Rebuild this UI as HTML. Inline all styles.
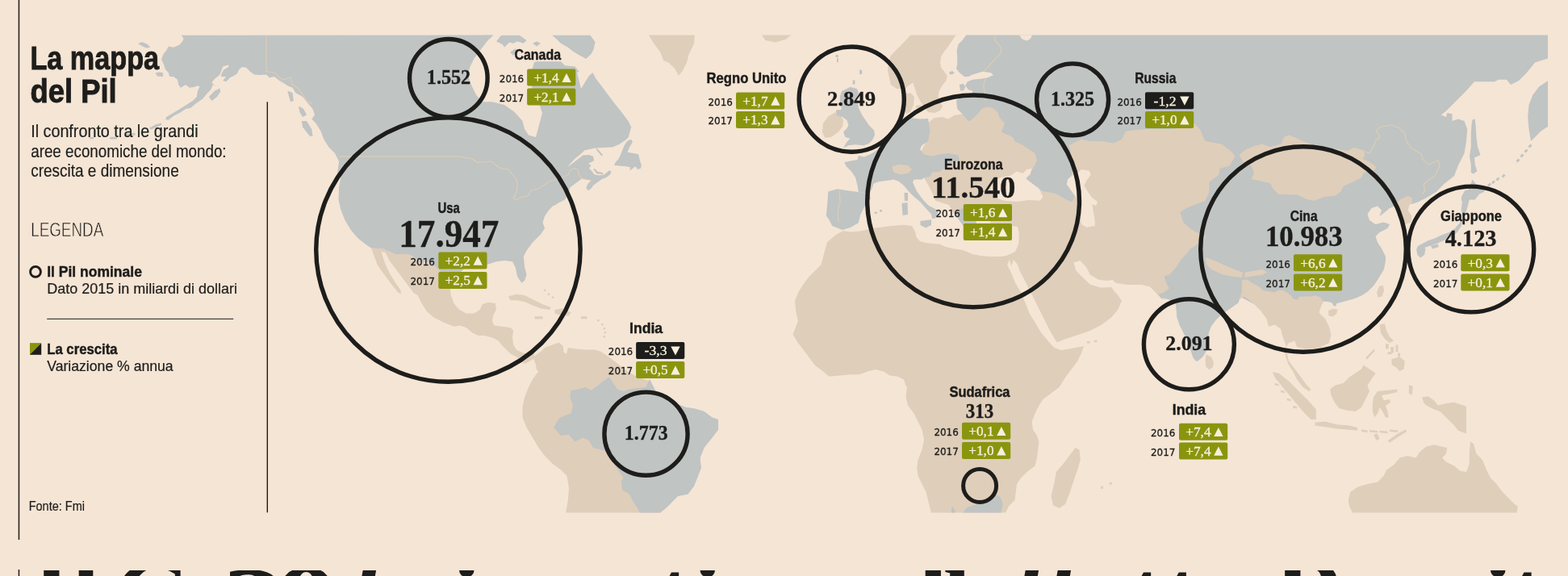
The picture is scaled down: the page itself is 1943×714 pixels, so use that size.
<!DOCTYPE html>
<html lang="it"><head><meta charset="utf-8"><title>La mappa del Pil</title>
<style>
html,body{margin:0;padding:0}
html{background:#f5e5d5}
body{width:1943px;height:714px;background:#f5e5d5;position:relative;font-family:"Liberation Sans",sans-serif;color:#1d1d1b}
.map{position:absolute;left:0;top:0}
text{fill:#1d1d1b;white-space:pre}
.sb{font-family:"Liberation Sans",sans-serif;font-weight:bold;stroke:#1d1d1b;stroke-width:0.45px}
.tt{stroke-width:0.9px}
.sr{font-family:"Liberation Sans",sans-serif;stroke:#1d1d1b;stroke-width:0.2px}
.sl{font-family:"Liberation Sans",sans-serif;stroke:#f5e5d5;stroke-width:0.5px}
.nb{font-family:"Liberation Serif",serif;font-weight:bold;stroke:#1d1d1b;stroke-width:0.35px}
.yr{font-family:"DejaVu Sans","Liberation Sans",sans-serif;stroke:#1d1d1b;stroke-width:0.3px}
.vv{font-family:"Liberation Serif",serif;fill:#f7efdc;stroke:#f7efdc;stroke-width:0.3px}
.hl{position:absolute;left:0;top:706.5px;width:1943px;height:8px;overflow:hidden}
.hl span{position:absolute;font-family:"Liberation Serif",serif;font-weight:bold;line-height:1;white-space:nowrap;color:#1d1d1b}
</style></head>
<body>
<svg class="map" width="1943" height="714" viewBox="0 0 1943 714">
<defs><clipPath id="mc"><rect x="100" y="43.5" width="1818" height="592"/></clipPath></defs>
<g clip-path="url(#mc)">
<path d="M803.5 43.0L861.0 43.0L859.8 55.0L853.5 67.5L851.0 77.5L846.0 87.5L841.0 93.8L836.0 85.0L828.5 77.5L822.2 75.0L818.5 65.0L811.0 55.0Z" fill="#dfceba"/>
<path d="M943.5 43.0L981.0 43.0L973.5 48.8L961.0 52.5L948.5 50.0Z" fill="#dfceba"/>
<path d="M460.0 307.5L475.0 308.5L490.0 315.0L505.0 315.0L512.5 318.0L520.0 325.5L530.0 324.2L540.0 330.5L550.0 340.5L560.0 353.0L557.5 356.0L558.8 366.0L562.5 376.0L568.8 383.5L577.5 388.5L587.5 388.5L595.0 383.5L597.5 377.2L605.0 374.8L613.8 376.0L615.0 383.5L611.2 391.0L610.0 398.5L612.5 403.5L622.5 404.8L632.5 406.0L636.2 409.8L635.0 418.5L636.2 427.2L640.0 433.5L647.5 437.2L655.0 438.5L662.5 438.5L661.2 444.8L655.0 448.5L650.0 451.0L645.0 447.2L640.0 442.2L632.5 438.5L627.5 433.5L622.5 428.5L617.5 422.2L610.0 418.5L600.0 416.0L592.5 416.0L585.0 412.2L577.5 406.0L570.0 403.5L562.5 404.8L550.0 399.8L537.5 393.5L528.8 386.0L522.5 376.0L517.5 366.0L512.5 363.0L505.0 353.0L497.5 343.0L490.0 333.0L482.5 323.0L477.5 313.0L472.5 311.8L472.5 311.8L475.0 320.5L478.8 330.5L483.8 340.5L490.0 350.5L496.2 359.2L497.5 364.2L493.8 363.0L487.5 355.5L480.0 345.5L472.5 335.5L467.5 328.0L463.8 318.0L460.0 307.5Z" fill="#dfceba"/>
<path d="M630.0 367.2L640.0 364.8L650.0 366.0L660.0 371.0L672.5 377.2L682.5 381.0L681.2 384.0L670.0 382.2L660.0 378.5L650.0 374.0L640.0 372.2L632.5 372.2Z" fill="#dfceba"/>
<path d="M687.5 384.0L697.5 382.2L707.5 387.2L705.0 391.5L695.0 391.0L687.5 388.5Z" fill="#dfceba"/>
<path d="M662.5 392.2L672.5 392.2L672.5 395.5L662.5 395.5Z" fill="#dfceba"/>
<path d="M720.0 392.2L727.5 392.2L727.5 395.2L720.0 395.2Z" fill="#dfceba"/>
<path d="M740.0 396.0L742.5 396.0L742.5 398.5L740.0 398.5Z" fill="#dfceba"/>
<path d="M745.0 401.0L747.5 401.0L747.5 403.5L745.0 403.5Z" fill="#dfceba"/>
<path d="M747.5 406.0L750.0 406.0L750.0 408.5L747.5 408.5Z" fill="#dfceba"/>
<path d="M748.8 411.0L751.2 411.0L751.2 413.5L748.8 413.5Z" fill="#dfceba"/>
<path d="M747.5 416.0L750.0 416.0L750.0 418.5L747.5 418.5Z" fill="#dfceba"/>
<path d="M673.8 358.5L676.2 358.5L676.2 361.0L673.8 361.0Z" fill="#dfceba"/>
<path d="M678.8 363.5L681.2 363.5L681.2 366.0L678.8 366.0Z" fill="#dfceba"/>
<path d="M683.8 367.2L686.2 367.2L686.2 369.8L683.8 369.8Z" fill="#dfceba"/>
<path d="M661.2 442.2L670.0 436.0L675.0 431.0L685.0 427.2L692.5 424.8L697.5 428.5L698.8 437.2L702.0 438.5L703.8 431.0L712.5 432.2L725.0 433.5L737.5 433.5L745.0 436.0L752.5 441.0L762.5 448.5L775.0 458.5L787.5 466.0L797.5 469.8L805.0 472.2L805.0 470.0L807.5 475.0L812.5 485.0L825.0 492.5L837.5 500.0L850.0 505.0L860.0 506.2L872.5 510.0L882.5 517.5L890.0 520.0L890.0 532.5L882.5 542.5L872.5 555.0L867.5 567.5L868.8 580.0L865.0 590.0L860.0 602.5L852.5 612.5L840.0 615.0L832.5 622.5L825.0 630.0L818.8 635.0L818.8 640.0L701.2 640.0L701.2 635.0L703.8 620.0L705.0 605.0L702.5 590.0L695.0 582.5L685.0 575.0L675.0 565.0L667.5 555.0L660.0 542.5L652.5 530.0L647.5 517.5L647.5 505.0L650.0 492.5L655.0 480.0L660.0 470.0L667.5 460.0L665.0 458.5L663.8 451.0L661.2 445.5Z" fill="#dfceba"/>
<path d="M1019.9 152.9L1026.2 144.5L1034.6 139.3L1040.9 142.4L1045.1 148.7L1044.1 157.1L1038.8 163.4L1030.4 169.7L1022.0 170.8L1018.9 163.4Z" fill="#dfceba"/>
<path d="M1128.8 43.1L1120.0 52.5L1112.5 60.0L1103.8 68.8L1101.2 77.5L1100.0 87.5L1101.9 96.2L1103.8 105.0L1111.2 110.0L1121.2 110.0L1127.5 105.0L1131.2 102.5L1133.8 110.0L1136.2 117.5L1140.0 125.0L1142.5 129.0L1146.0 134.0L1150.0 139.0L1158.0 140.0L1165.0 137.0L1168.0 132.0L1166.2 129.0L1165.0 125.0L1162.5 120.0L1163.8 112.5L1167.5 106.2L1172.5 100.0L1173.8 93.8L1170.0 88.8L1166.2 83.8L1165.0 77.5L1166.2 70.0L1170.0 63.8L1175.0 57.5L1180.0 50.0L1185.0 43.1Z" fill="#dfceba"/>
<path d="M1120.0 117.0L1128.0 115.0L1133.0 120.0L1132.0 130.0L1128.0 139.0L1122.0 141.0L1119.0 130.0Z" fill="#dfceba"/>
<path d="M1135.0 131.0L1141.0 130.0L1142.0 137.0L1136.0 138.0Z" fill="#dfceba"/>
<path d="M1153.8 640.0L1153.8 635.5L1152.5 630.0L1150.0 620.0L1147.5 610.0L1142.5 600.0L1137.5 590.0L1136.2 580.0L1137.5 570.0L1142.5 557.5L1145.0 545.0L1142.5 532.5L1137.5 522.5L1132.5 512.5L1125.0 502.5L1122.5 492.5L1123.8 480.0L1122.5 478.0L1120.0 470.5L1112.5 466.8L1102.5 465.5L1095.0 460.5L1085.0 458.0L1075.0 460.5L1065.0 464.2L1055.0 464.2L1040.0 465.5L1027.5 466.8L1020.0 460.5L1010.0 453.0L1002.5 443.0L995.0 433.0L987.5 423.0L982.5 414.2L985.0 408.0L988.8 398.0L986.2 385.5L985.0 373.0L988.8 363.0L995.0 353.0L1002.5 343.0L1010.0 335.5L1017.5 328.0L1025.0 300.0L1037.5 290.0L1045.0 286.2L1055.0 287.5L1067.5 286.2L1085.0 282.5L1105.0 280.0L1120.0 278.8L1130.0 280.0L1134.0 287.0L1135.5 294.0L1140.0 299.0L1147.0 301.0L1156.0 302.0L1164.0 302.5L1172.0 306.0L1180.0 308.0L1193.0 310.0L1205.0 315.0L1215.0 317.0L1227.0 318.0L1240.0 318.0L1247.0 317.0L1254.0 314.0L1258.0 312.0L1262.0 303.0L1263.0 290.0L1261.0 281.0L1254.0 280.0L1245.0 285.0L1235.0 287.0L1228.0 280.0L1226.0 270.0L1228.0 262.0L1230.0 256.0L1222.0 258.0L1212.0 262.0L1206.0 268.0L1210.0 276.0L1206.0 284.0L1200.0 288.0L1195.0 282.0L1188.0 272.0L1182.0 265.0L1176.0 254.0L1166.0 251.0L1159.0 248.7L1155.6 240.0L1150.6 230.0L1144.0 218.5L1135.0 200.0L1148.0 175.0L1149.0 162.0L1150.0 152.5L1157.5 146.2L1167.5 145.0L1175.0 147.5L1182.5 143.0L1192.5 141.2L1200.0 125.0L1330.0 125.0L1600.0 140.0L1600.0 300.0L1500.0 330.0L1470.0 370.0L1440.0 368.0L1435.0 366.0L1430.0 360.5L1425.0 355.5L1415.0 353.0L1397.5 353.0L1380.0 350.5L1375.0 352.0L1380.0 360.0L1385.0 365.5L1390.0 373.0L1385.0 384.2L1377.0 393.5L1364.5 403.0L1349.5 410.5L1334.5 415.5L1319.5 420.5L1310.0 424.2L1306.2 431.0L1315.0 434.0L1327.5 432.0L1343.0 429.0L1340.0 438.0L1335.0 448.0L1327.5 458.0L1320.0 468.0L1312.5 480.0L1302.5 487.5L1292.5 495.0L1287.5 502.5L1282.5 512.5L1278.8 522.5L1280.0 532.5L1285.0 540.0L1287.5 547.5L1286.2 557.5L1285.0 567.5L1282.5 577.5L1272.5 585.0L1265.0 592.5L1260.0 600.0L1258.8 610.0L1257.5 620.0L1250.0 627.5L1246.2 635.5L1246.2 640.0Z" fill="#dfceba"/>
<path d="M1332.5 555.0L1337.5 557.5L1338.8 570.0L1335.0 582.5L1330.0 597.5L1325.0 612.5L1320.0 625.0L1312.5 630.0L1305.0 626.2L1302.5 615.0L1306.2 600.0L1308.8 585.0L1317.5 575.0L1325.0 565.0Z" fill="#dfceba"/>
<path d="M1364.0 602.8L1367.0 602.8L1367.0 605.8L1364.0 605.8Z" fill="#dfceba"/>
<path d="M1374.8 597.8L1377.8 597.8L1377.8 600.8L1374.8 600.8Z" fill="#dfceba"/>
<path d="M1346.8 423.0L1350.8 423.0L1350.8 425.5L1346.8 425.5Z" fill="#dfceba"/>
<path d="M1355.5 421.8L1359.5 421.8L1359.5 424.2L1355.5 424.2Z" fill="#dfceba"/>
<path d="M1728.2 255.5L1734.5 248.0L1744.5 243.0L1749.5 245.5L1750.0 253.0L1747.0 253.0L1744.5 260.5L1749.5 268.0L1748.2 275.5L1742.0 278.0L1735.8 276.8L1734.5 268.0L1732.0 261.8Z" fill="#dfceba"/>
<path d="M1708.8 355.0L1713.8 353.8L1715.0 360.0L1712.5 367.5L1707.5 368.8L1706.2 362.5Z" fill="#dfceba"/>
<path d="M1646.2 385.0L1652.5 382.5L1657.5 383.8L1656.2 388.8L1651.2 392.5L1646.2 391.2Z" fill="#dfceba"/>
<path d="M1494.5 439.3L1500.8 442.4L1504.0 448.7L1503.0 455.0L1498.7 458.2L1494.5 455.0L1493.5 446.6Z" fill="#dfceba"/>
<path d="M1577.0 461.2L1584.5 462.5L1597.0 472.5L1609.5 485.0L1622.0 497.5L1630.8 507.5L1630.8 520.0L1624.5 520.0L1614.5 510.0L1602.0 495.0L1589.5 480.0L1579.5 467.5Z" fill="#dfceba"/>
<path d="M1629.5 523.8L1642.0 522.5L1657.0 526.2L1672.0 527.5L1682.0 530.0L1682.0 533.8L1669.5 532.5L1654.5 531.2L1639.5 528.8L1629.5 527.5Z" fill="#dfceba"/>
<path d="M1689.5 452.5L1697.0 457.5L1704.5 462.5L1699.5 470.0L1694.5 477.5L1697.0 485.0L1692.0 495.0L1687.0 505.0L1679.5 510.0L1669.5 508.8L1659.5 506.2L1654.5 500.0L1649.5 490.0L1648.2 482.5L1654.5 477.5L1664.5 475.0L1672.0 467.5L1679.5 462.5L1687.0 457.5Z" fill="#dfceba"/>
<path d="M1702.0 492.5L1707.0 485.0L1719.5 483.8L1732.0 482.5L1730.8 486.2L1719.5 488.8L1712.0 490.0L1714.5 496.2L1722.0 495.0L1723.2 498.8L1717.0 502.5L1719.5 510.0L1720.8 517.5L1717.0 517.5L1713.2 510.0L1709.5 505.0L1707.0 512.5L1703.2 517.5L1700.8 510.0L1700.8 500.0Z" fill="#dfceba"/>
<path d="M1709.5 402.5L1715.8 401.2L1718.2 410.0L1722.0 417.5L1727.0 422.5L1722.0 425.0L1715.8 420.0L1710.8 412.5Z" fill="#dfceba"/>
<path d="M1724.5 445.0L1734.5 442.5L1740.8 447.5L1739.5 457.5L1734.5 460.0L1729.5 455.0L1724.5 452.5Z" fill="#dfceba"/>
<path d="M1692.0 443.8L1702.0 433.0L1704.0 434.5L1694.0 445.5Z" fill="#dfceba"/>
<path d="M1717.0 426.2L1720.8 426.2L1720.8 432.5L1717.0 432.5Z" fill="#dfceba"/>
<path d="M1723.2 430.0L1727.0 430.0L1727.0 437.5L1723.2 437.5Z" fill="#dfceba"/>
<path d="M1729.5 427.5L1732.5 427.5L1732.5 436.2L1729.5 436.2Z" fill="#dfceba"/>
<path d="M1719.5 436.2L1724.5 436.2L1724.5 439.2L1719.5 439.2Z" fill="#dfceba"/>
<path d="M1732.0 437.5L1735.0 437.5L1735.0 442.5L1732.0 442.5Z" fill="#dfceba"/>
<path d="M1745.8 477.5L1750.8 478.8L1749.5 490.0L1745.8 487.5Z" fill="#dfceba"/>
<path d="M1579.5 475.0L1584.5 476.0L1584.5 478.5L1579.5 477.5Z" fill="#dfceba"/>
<path d="M1587.0 483.8L1592.0 484.8L1592.0 487.2L1587.0 486.2Z" fill="#dfceba"/>
<path d="M1594.5 493.8L1599.5 494.8L1599.5 497.2L1594.5 496.2Z" fill="#dfceba"/>
<path d="M1602.0 503.0L1607.0 504.0L1607.0 506.5L1602.0 505.5Z" fill="#dfceba"/>
<path d="M1687.0 532.5L1694.5 533.5L1694.5 536.0L1687.0 535.0Z" fill="#dfceba"/>
<path d="M1697.0 533.0L1707.0 534.0L1707.0 536.5L1697.0 535.5Z" fill="#dfceba"/>
<path d="M1709.5 533.8L1719.5 534.8L1719.5 537.2L1709.5 536.2Z" fill="#dfceba"/>
<path d="M1722.0 532.5L1732.0 533.5L1732.0 536.0L1722.0 535.0Z" fill="#dfceba"/>
<path d="M1762.0 492.5L1769.5 491.2L1777.0 496.2L1782.0 502.5L1792.0 500.0L1802.0 498.8L1817.0 503.8L1817.0 537.5L1807.0 533.8L1802.0 527.5L1792.0 517.5L1784.5 510.0L1777.0 507.5L1769.5 503.8L1764.5 500.0Z" fill="#dfceba"/>
<path d="M1719.5 546.2L1732.0 537.5L1742.0 532.5L1743.2 535.0L1733.2 541.2L1722.0 548.8Z" fill="#dfceba"/>
<path d="M1702.0 538.8L1707.0 537.5L1709.5 543.8L1705.8 546.2Z" fill="#dfceba"/>
<path d="M1675.8 640.0L1675.8 635.5L1672.0 627.5L1670.8 620.0L1673.2 610.0L1682.0 603.8L1694.5 600.0L1707.0 597.5L1714.5 590.0L1718.2 582.5L1727.0 576.2L1734.5 567.5L1744.5 565.0L1754.5 567.5L1759.5 560.0L1767.0 553.8L1777.0 551.2L1787.0 553.8L1793.2 555.0L1792.0 562.5L1787.0 567.5L1792.0 572.5L1802.0 577.5L1809.5 583.8L1817.0 585.0L1820.8 575.0L1820.8 560.0L1822.0 547.5L1825.8 550.0L1829.5 562.5L1837.0 570.0L1842.0 582.5L1847.0 592.5L1854.5 600.0L1862.0 610.0L1869.5 617.5L1877.0 625.0L1880.8 627.5L1879.5 635.5L1879.5 640.0Z" fill="#dfceba"/>
<path d="M224.4 43.5L227.5 47.5L226.2 51.2L222.5 55.6L215.0 58.8L208.8 57.5L206.2 62.5L202.5 66.9L200.0 73.8L202.5 78.8L205.0 86.2L208.8 90.0L210.0 95.0L215.0 95.0L220.0 98.8L221.2 105.0L223.8 108.8L230.0 105.0L235.0 108.8L240.0 108.1L245.0 106.2L247.5 107.5L245.0 112.5L243.8 120.0L238.8 125.0L232.5 129.0L225.0 133.8L218.8 137.5L212.5 141.2L206.2 145.0L205.0 148.1L208.8 148.8L215.0 143.8L222.5 140.0L230.0 135.0L236.2 133.8L243.8 127.5L251.2 122.5L256.2 116.2L261.2 111.2L263.8 105.0L267.5 107.5L262.5 102.5L265.0 98.8L272.5 92.5L276.2 82.5L282.5 80.6L283.8 82.5L277.5 86.2L275.0 90.0L273.8 95.0L280.0 95.0L276.2 100.0L280.0 101.2L285.0 96.2L290.0 93.8L293.8 91.2L296.2 86.2L300.0 83.1L305.0 83.8L310.0 88.8L315.0 92.5L322.5 93.1L330.0 92.5L333.8 96.2L340.0 95.0L346.2 100.0L352.5 105.0L340.0 93.0L347.5 100.0L356.2 106.2L362.5 108.8L366.2 115.0L375.0 120.0L380.0 126.2L387.5 135.0L390.0 142.5L386.2 147.5L391.2 152.5L397.5 162.5L401.2 172.5L407.5 182.5L415.0 190.0L420.0 200.0L418.8 210.0L417.5 218.0L422.5 218.0L420.0 233.0L419.5 248.0L422.5 260.5L427.5 273.0L435.0 285.5L443.8 295.5L455.0 304.2L460.0 307.5L475.0 308.5L490.0 315.0L505.0 315.0L512.5 318.0L520.0 325.5L530.0 324.2L540.0 330.5L550.0 340.5L560.0 353.0L565.0 343.0L575.0 333.0L590.0 328.0L603.8 328.0L615.0 324.2L625.0 323.0L635.0 324.2L638.8 331.8L641.2 343.0L646.2 350.5L650.0 348.0L652.5 340.5L650.0 330.5L648.8 318.0L652.5 310.5L660.0 300.5L670.0 290.5L675.0 283.0L672.5 275.5L675.0 268.0L680.0 260.5L685.0 255.5L688.8 253.8L692.5 251.2L700.0 247.5L705.0 237.5L706.2 232.5L711.2 228.8L716.2 225.0L721.2 221.2L726.2 222.5L732.5 223.8L728.8 227.5L726.2 232.5L728.8 236.2L732.5 233.8L735.0 230.0L740.0 226.2L745.0 222.5L751.2 220.0L756.2 216.2L757.5 212.5L755.0 211.2L748.8 216.2L742.5 217.5L736.2 216.2L733.8 212.5L730.0 208.8L732.5 205.0L728.8 202.5L732.5 201.2L736.2 198.8L735.0 193.8L730.0 191.9L721.2 192.5L715.0 195.0L708.8 201.2L702.5 207.5L706.2 203.8L712.5 197.5L718.8 192.5L725.0 186.2L736.2 183.8L746.2 183.0L758.8 182.5L767.5 178.8L775.0 173.8L778.8 170.0L782.2 157.5L778.5 150.0L771.0 140.0L761.0 127.5L753.5 117.5L746.0 107.5L738.5 97.5L734.5 90.0L730.0 93.8L720.0 110.0L715.0 90.0L717.5 88.8L712.5 82.5L700.0 81.2L695.0 76.2L665.0 76.2L662.0 77.0L657.0 95.0L660.0 112.0L668.0 128.0L672.0 140.0L668.0 155.0L664.0 170.0L655.0 167.5L650.0 160.0L647.5 150.0L637.5 138.8L625.0 130.0L610.0 126.2L597.5 126.2L590.0 117.5L583.8 105.0L580.0 92.5L582.5 82.5L587.5 72.5L595.0 62.5L602.5 52.5L611.2 43.0Z" fill="#c0c4c3"/>
<path d="M258.8 120.0L266.2 112.5L272.5 109.4L273.1 113.8L268.8 120.0L262.5 125.0Z" fill="#c0c4c3"/>
<path d="M185.0 158.8L192.5 154.4L200.0 152.5L200.0 155.0L193.8 157.5L187.5 160.6Z" fill="#c0c4c3"/>
<path d="M173.8 163.8L177.5 163.5L177.5 166.2L173.8 166.2Z" fill="#c0c4c3"/>
<path d="M155.0 165.6L167.5 165.0L167.5 167.5L155.0 168.1Z" fill="#c0c4c3"/>
<path d="M136.2 170.0L145.0 169.4L145.0 172.5L136.2 172.5Z" fill="#c0c4c3"/>
<path d="M111.2 170.0L116.2 170.0L116.2 172.2L111.2 172.2Z" fill="#c0c4c3"/>
<path d="M171.0 54.0L176.0 52.0L183.0 55.0L186.0 59.0L181.0 59.5L176.0 57.0Z" fill="#c0c4c3"/>
<path d="M192.5 90.6L197.5 89.4L201.9 90.0L201.9 95.0L195.0 94.4Z" fill="#c0c4c3"/>
<path d="M356.2 112.5L362.5 115.0L363.8 125.0L360.0 126.2L357.5 117.5Z" fill="#c0c4c3"/>
<path d="M370.0 131.2L376.2 135.0L380.0 142.5L375.0 145.0L371.2 138.8Z" fill="#c0c4c3"/>
<path d="M373.8 150.0L380.0 150.0L386.2 160.0L387.5 168.8L383.8 168.8L375.0 157.5Z" fill="#c0c4c3"/>
<path d="M778.8 173.8L782.5 173.0L783.8 176.2L780.0 182.5L777.5 188.8L785.0 190.0L791.2 191.2L792.5 197.5L795.0 205.0L793.8 208.8L790.0 210.0L787.5 206.2L782.5 210.0L780.0 211.2L781.2 207.5L776.2 206.2L767.5 205.6L761.2 205.0L762.5 201.2L766.2 197.5L768.8 192.5L771.2 186.2L773.8 180.0L776.2 176.2Z" fill="#c0c4c3"/>
<path d="M738.5 185.0L740.0 184.0L747.0 192.0L745.5 193.5Z" fill="#c0c4c3"/>
<path d="M735.0 210.0L737.0 209.0L741.0 213.0L747.0 214.0L747.0 216.0L740.0 215.5Z" fill="#c0c4c3"/>
<path d="M600.0 43.5L611.2 43.5L607.5 47.5L600.0 48.8Z" fill="#c0c4c3"/>
<path d="M621.2 43.8L643.8 43.8L652.5 50.0L648.8 53.8L641.2 51.2L636.2 53.8L631.2 52.5L625.0 58.8L622.5 55.0L615.0 51.2Z" fill="#c0c4c3"/>
<path d="M660.0 53.8L665.0 51.2L670.0 53.8L665.0 57.5Z" fill="#c0c4c3"/>
<path d="M683.8 43.5L731.2 43.5L737.5 51.9L735.6 61.2L732.5 66.9L726.2 73.1L721.9 70.6L716.2 67.5L710.0 63.8L703.8 58.8L695.0 53.8L690.0 48.8Z" fill="#c0c4c3"/>
<path d="M631.9 65.0L638.8 60.0L641.2 65.0L636.2 68.8Z" fill="#c0c4c3"/>
<path d="M805.0 470.0L807.5 475.0L812.5 485.0L825.0 492.5L837.5 500.0L850.0 505.0L860.0 506.2L872.5 510.0L882.5 517.5L890.0 520.0L890.0 532.5L882.5 542.5L872.5 555.0L867.5 567.5L868.8 580.0L865.0 590.0L860.0 602.5L852.5 612.5L840.0 615.0L832.5 622.5L825.0 630.0L818.8 635.0L818.8 640.0L792.5 640.0L792.5 635.0L790.0 630.0L785.0 622.5L780.0 612.5L771.2 607.5L770.0 596.2L772.5 592.5L762.5 577.5L755.0 560.0L745.0 557.5L735.0 555.0L730.0 546.2L722.5 542.5L712.5 547.5L705.0 538.8L695.0 540.0L686.2 530.0L692.5 518.8L700.0 515.0L707.5 512.5L710.0 502.5L706.2 492.5L707.5 483.8L717.5 482.5L725.0 480.0L732.5 483.8L740.0 478.8L747.5 472.5L755.0 467.5L760.0 475.0L765.0 482.5L772.5 485.0L780.0 482.5L790.0 481.2L800.0 480.0Z" fill="#c0c4c3"/>
<path d="M1047.2 110.9L1053.5 107.8L1061.9 109.9L1064.0 115.1L1061.9 121.4L1064.0 134.0L1068.2 142.4L1072.4 148.7L1076.6 155.0L1082.9 161.3L1084.0 167.6L1080.8 173.9L1076.6 178.1L1070.3 180.2L1059.8 179.2L1051.4 180.2L1045.1 183.4L1049.3 176.0L1053.5 171.8L1047.2 169.7L1045.1 163.4L1049.3 159.2L1051.4 155.0L1049.3 148.7L1043.0 144.5L1040.9 138.2L1043.0 134.0L1040.9 129.8L1040.9 119.3L1043.0 113.0Z" fill="#c0c4c3"/>
<path d="M1036.0 136.5L1043.0 136.0L1046.0 141.0L1042.0 145.0L1036.5 142.5Z" fill="#c0c4c3"/>
<path d="M1035.7 67.9L1038.8 67.9L1038.8 71.0L1035.7 71.0Z" fill="#c0c4c3"/>
<path d="M1037.0 72.0L1038.8 72.0L1038.8 77.3L1037.0 77.3Z" fill="#c0c4c3"/>
<path d="M1065.0 86.8L1068.2 86.8L1068.2 92.0L1065.0 92.0Z" fill="#c0c4c3"/>
<path d="M1056.7 99.4L1059.4 99.4L1059.4 104.6L1056.7 104.6Z" fill="#c0c4c3"/>
<path d="M1176.2 89.4L1180.0 88.1L1182.5 90.0L1180.0 92.5L1176.9 91.9Z" fill="#c0c4c3"/>
<path d="M1188.8 105.0L1193.8 103.8L1196.2 107.5L1194.4 111.9L1190.0 112.5Z" fill="#c0c4c3"/>
<path d="M1063.8 238.0L1062.5 230.0L1060.0 220.0L1055.0 212.5L1048.8 206.2L1046.2 201.2L1055.0 199.2L1062.5 198.0L1063.8 193.0L1071.2 194.5L1080.0 190.5L1087.5 185.5L1091.2 180.5L1100.0 175.0L1106.2 168.8L1110.0 162.5L1112.5 155.0L1115.0 150.0L1116.2 147.0L1130.0 146.2L1140.0 147.5L1150.0 147.0L1152.5 162.5L1150.0 175.0L1142.5 180.0L1140.0 185.0L1145.0 191.2L1155.0 193.8L1165.0 191.2L1175.0 190.0L1187.5 192.5L1188.8 198.8L1180.0 201.2L1172.5 203.8L1170.0 208.8L1165.0 212.5L1155.0 213.8L1152.5 218.8L1145.0 220.0L1142.5 222.5L1132.5 222.5L1131.0 226.0L1136.0 237.0L1144.0 248.0L1151.0 255.0L1158.0 258.5L1163.0 262.0L1161.0 266.0L1159.0 270.5L1155.0 271.0L1154.0 265.5L1147.5 258.5L1140.0 250.0L1132.5 243.8L1125.0 236.2L1120.0 230.0L1113.8 225.0L1107.5 222.5L1100.0 223.8L1090.0 225.0L1082.5 227.5L1080.0 235.0L1077.5 240.0Z" fill="#c0c4c3"/>
<path d="M1140.5 274.0L1154.0 272.3L1154.0 279.0L1147.0 282.4L1140.5 279.0Z" fill="#c0c4c3"/>
<path d="M1117.5 252.0L1124.5 251.0L1125.0 266.0L1118.5 267.0Z" fill="#c0c4c3"/>
<path d="M1120.5 239.0L1125.0 239.0L1125.0 249.0L1121.0 249.0Z" fill="#c0c4c3"/>
<path d="M1026.2 237.5L1037.5 234.2L1050.0 236.2L1063.8 238.0L1077.5 240.5L1078.8 246.2L1071.2 256.2L1066.2 266.2L1063.8 276.2L1053.8 282.0L1043.8 285.0L1037.5 282.5L1031.2 280.0L1027.5 272.5L1023.8 267.5L1025.0 255.0L1025.8 245.0Z" fill="#c0c4c3"/>
<path d="M1083.8 262.5L1086.8 262.5L1086.8 265.0L1083.8 265.0Z" fill="#c0c4c3"/>
<path d="M1090.0 260.0L1093.0 260.0L1093.0 262.5L1090.0 262.5Z" fill="#c0c4c3"/>
<path d="M1193.0 640.0L1193.3 635.7L1197.3 629.8L1204.0 626.9L1211.0 624.9L1222.7 621.0L1228.6 616.0L1234.5 613.0L1238.4 615.0L1240.9 619.0L1242.4 624.9L1241.4 630.8L1239.4 640.0Z" fill="#c0c4c3"/>
<path d="M1178.6 640.0L1179.6 627.8L1183.5 632.7L1184.0 640.0Z" fill="#c0c4c3"/>
<path d="M1197.5 43.1L1192.5 50.0L1187.5 55.0L1185.6 62.5L1186.2 71.2L1186.2 80.0L1185.0 85.0L1188.8 90.0L1195.0 95.0L1200.0 95.0L1205.0 92.5L1217.5 88.8L1227.5 90.0L1231.2 93.1L1223.8 96.2L1217.5 97.5L1205.0 98.8L1198.8 101.2L1196.2 106.2L1200.0 111.2L1205.0 112.5L1205.0 115.0L1204.0 120.0L1198.0 121.0L1192.0 117.5L1187.5 122.5L1185.0 125.0L1185.0 125.0L1186.2 135.0L1192.5 141.2L1200.0 150.6L1205.0 147.5L1212.5 140.0L1216.2 135.0L1222.5 132.5L1230.0 133.8L1236.2 138.8L1238.8 146.2L1245.0 152.5L1242.5 160.0L1241.2 163.8L1255.0 170.0L1257.5 175.0L1267.5 180.0L1275.0 185.0L1282.5 190.0L1285.0 199.0L1282.0 205.0L1278.0 212.0L1276.0 219.0L1275.0 210.0L1271.7 223.3L1291.7 236.7L1308.3 240.0L1320.0 246.7L1328.3 250.5L1332.0 243.0L1325.0 233.0L1325.0 223.0L1330.0 212.0L1328.0 195.0L1325.0 180.0L1340.0 172.5L1350.0 175.0L1365.0 175.0L1380.0 177.5L1390.0 172.5L1395.0 162.5L1420.0 160.0L1450.0 160.0L1457.0 159.5L1480.0 153.0L1486.7 160.0L1493.4 175.0L1513.6 178.6L1527.0 188.7L1530.4 193.7L1523.7 205.5L1512.0 208.8L1510.0 217.0L1498.5 225.6L1498.5 237.4L1493.4 249.0L1480.0 254.0L1470.0 258.0L1462.5 263.0L1466.2 275.5L1476.2 284.2L1487.5 290.5L1495.0 293.0L1490.0 298.0L1480.0 305.5L1471.2 310.5L1475.0 308.8L1470.0 315.0L1463.8 321.2L1457.5 331.2L1450.0 340.0L1442.5 342.5L1445.0 350.0L1448.8 357.5L1442.5 362.5L1435.0 365.0L1438.8 370.0L1445.0 371.2L1438.3 368.3L1443.3 370.0L1450.0 371.7L1456.7 375.0L1457.5 383.3L1458.3 393.3L1461.7 403.3L1466.7 413.3L1471.7 423.3L1475.0 433.3L1478.3 443.3L1481.7 447.5L1484.0 447.7L1490.3 442.4L1495.6 434.0L1496.6 423.5L1497.7 413.0L1500.8 404.6L1507.1 396.2L1513.4 389.9L1519.7 385.7L1526.0 381.5L1534.5 375.2L1537.0 368.0L1560.0 380.0L1630.0 378.0L1640.0 373.8L1643.8 373.8L1650.0 375.0L1652.5 378.8L1655.0 380.0L1656.2 376.2L1661.2 375.0L1670.0 372.5L1678.8 370.0L1687.5 366.2L1695.0 361.2L1702.5 353.8L1707.5 346.2L1711.2 340.0L1715.0 333.8L1717.0 323.0L1717.0 318.0L1712.0 308.0L1707.0 300.5L1704.5 293.0L1709.5 288.0L1719.5 283.0L1722.0 278.0L1714.5 275.5L1704.5 278.0L1697.0 273.0L1694.5 265.5L1699.5 258.0L1707.0 255.5L1712.0 260.5L1709.5 268.0L1714.5 264.2L1722.0 258.0L1728.2 255.5L1734.5 248.0L1744.5 243.0L1749.5 245.5L1749.5 253.0L1757.0 250.5L1767.0 245.5L1779.5 238.0L1789.5 228.0L1802.0 218.0L1807.0 205.0L1814.5 190.0L1817.0 175.0L1818.2 160.0L1814.5 150.0L1807.0 147.5L1799.5 150.0L1799.5 141.2L1793.2 140.0L1792.0 145.0L1785.8 142.5L1792.0 137.5L1804.5 125.0L1817.0 112.5L1827.0 101.2L1852.0 101.2L1857.0 98.8L1867.0 98.8L1872.0 105.0L1882.0 100.0L1892.0 90.0L1902.0 77.5L1918.2 72.5L1924.5 72.5L1924.5 40.0L1198.0 30.0Z" fill="#c0c4c3"/>
<path d="M1924.5 100.0L1918.2 100.0L1907.0 107.5L1899.5 117.5L1894.5 130.0L1893.2 145.0L1894.5 160.0L1897.0 175.0L1902.0 170.0L1909.5 162.5L1917.0 157.5L1924.5 155.0Z" fill="#c0c4c3"/>
<path d="M1824.5 148.4L1827.8 147.6L1828.7 156.8L1829.5 170.3L1831.0 182.0L1834.5 192.0L1831.0 193.8L1827.0 195.5L1827.8 203.9L1830.3 212.3L1826.0 215.6L1822.8 214.0L1822.8 203.9L1821.0 193.8L1822.8 182.0L1822.8 165.2L1823.6 153.4Z" fill="#c0c4c3"/>
<path d="M1893.5 181.5L1896.5 178.5L1898.5 180.5L1895.5 183.5Z" fill="#c0c4c3"/>
<path d="M1888.5 187.5L1891.5 184.5L1893.5 186.5L1890.5 189.5Z" fill="#c0c4c3"/>
<path d="M1883.5 193.5L1886.5 190.5L1888.5 192.5L1885.5 195.5Z" fill="#c0c4c3"/>
<path d="M1878.5 199.5L1881.5 196.5L1883.5 198.5L1880.5 201.5Z" fill="#c0c4c3"/>
<path d="M1860.5 218.5L1863.5 215.5L1865.5 217.5L1862.5 220.5Z" fill="#c0c4c3"/>
<path d="M1853.5 222.5L1856.5 219.5L1858.5 221.5L1855.5 224.5Z" fill="#c0c4c3"/>
<path d="M1848.0 226.2L1851.0 223.2L1853.0 225.2L1850.0 228.2Z" fill="#c0c4c3"/>
<path d="M1843.0 229.5L1846.0 226.5L1848.0 228.5L1845.0 231.5Z" fill="#c0c4c3"/>
<path d="M1811.0 244.0L1814.4 237.5L1821.0 234.0L1822.8 227.4L1824.5 222.4L1829.5 229.0L1838.0 234.0L1839.6 237.5L1832.9 240.8L1827.8 247.6L1821.0 247.6L1814.4 251.0L1811.0 249.0Z" fill="#c0c4c3"/>
<path d="M1815.7 235.1L1822.0 238.9L1820.7 247.7L1818.2 257.8L1815.7 265.4L1810.6 274.2L1803.0 283.0L1795.5 288.1L1785.4 291.8L1777.9 295.6L1770.3 298.1L1762.7 301.9L1757.7 304.4L1759.0 308.2L1765.2 307.0L1772.8 304.4L1780.4 301.9L1789.2 298.1L1798.0 294.4L1805.6 288.1L1810.6 280.5L1813.1 270.4L1810.6 260.3L1811.9 250.2L1813.1 242.7Z" fill="#c0c4c3"/>
<path d="M1756.4 305.4L1762.7 304.2L1766.5 308.2L1765.2 315.8L1760.2 319.6L1756.4 315.8L1755.2 309.5Z" fill="#c0c4c3"/>
<path d="M1772.8 304.7L1781.6 302.2L1782.9 305.9L1775.3 308.5Z" fill="#c0c4c3"/>
<path d="M1263.0 43.0L1279.0 43.0L1277.0 48.0L1272.0 50.5L1266.0 48.0Z" fill="#f5e5d5"/>
<path d="M1105.0 206.2L1115.0 203.8L1125.0 205.0L1130.0 210.0L1125.0 215.0L1115.0 216.2L1107.5 213.8Z" fill="#dfceba"/>
<path d="M1248.0 328.0L1253.0 338.0L1258.0 350.5L1265.5 363.0L1270.5 375.5L1275.5 388.0L1283.0 400.5L1290.5 413.0L1299.0 423.0L1306.2 431.0L1310.0 424.2L1308.0 422.0L1301.0 410.0L1293.5 395.0L1286.0 380.0L1278.5 365.0L1271.0 350.0L1263.5 335.5L1261.0 328.0L1256.0 322.0L1253.0 330.0L1251.0 322.0Z" fill="#f5e5d5"/>
<path d="M1330.6 325.4L1338.2 322.9L1345.8 330.4L1350.8 340.5L1360.9 346.5L1371.0 348.0L1378.6 347.0L1383.6 351.5L1378.6 356.0L1363.4 356.5L1350.8 352.5L1340.7 343.0L1333.2 335.5Z" fill="#f5e5d5"/>
<path d="M1340.0 210.0L1350.0 211.7L1351.7 216.7L1346.7 223.3L1343.3 230.0L1348.3 238.3L1353.3 245.0L1360.0 250.0L1358.3 255.0L1353.3 253.3L1355.0 263.3L1356.7 273.3L1356.7 280.0L1346.7 281.7L1340.0 278.3L1338.3 263.3L1336.7 250.0L1330.0 240.0L1321.7 228.3L1323.3 221.7L1330.0 216.7L1336.7 213.3Z" fill="#f5e5d5"/>
<path d="M1230.0 225.0L1240.0 220.0L1252.5 217.5L1260.0 212.5L1267.5 215.0L1272.5 210.0L1278.8 208.8L1276.2 216.2L1271.2 221.2L1277.5 226.2L1287.5 233.8L1292.5 243.8L1288.8 248.8L1275.0 248.0L1260.0 250.0L1245.0 248.8L1232.5 245.0L1227.5 235.0Z" fill="#f5e5d5"/>
<path d="M1535.5 192.0L1543.9 185.3L1554.0 181.0L1564.0 178.6L1574.0 182.0L1587.6 178.6L1591.0 170.0L1597.6 167.6L1607.7 171.8L1614.5 175.0L1625.0 179.0L1640.0 182.0L1655.0 184.5L1670.0 187.0L1678.0 182.8L1688.4 186.0L1691.8 192.0L1688.4 197.0L1696.8 200.4L1705.2 207.0L1703.5 210.5L1690.0 213.9L1686.7 220.6L1676.6 225.6L1664.9 230.7L1661.5 237.4L1654.8 242.4L1641.3 244.0L1627.9 249.0L1617.8 246.6L1607.7 241.6L1584.2 240.8L1577.5 234.0L1574.0 227.3L1560.7 224.0L1550.6 222.3L1554.0 213.9L1550.6 205.5L1540.5 200.4Z" fill="#dfceba"/>
<path d="M1494.0 319.0L1507.5 324.0L1520.0 330.0L1532.5 335.0L1540.0 337.5L1539.0 344.0L1526.0 342.5L1514.0 340.0L1501.0 334.0L1495.0 327.5Z" fill="#dfceba"/>
<path d="M1542.5 337.5L1564.0 334.0L1570.0 337.5L1564.0 341.0L1551.0 342.5L1542.5 344.0Z" fill="#dfceba"/>
<path d="M1536.2 371.2L1538.8 361.2L1538.8 347.5L1545.0 346.2L1552.5 351.2L1560.0 355.0L1565.0 360.0L1572.5 361.2L1578.8 362.5L1585.0 359.4L1590.0 360.0L1595.0 362.8L1600.0 366.5L1602.5 370.2L1607.5 371.5L1610.0 367.8L1617.5 367.5L1623.8 367.5L1630.0 366.2L1636.2 368.8L1640.0 373.8L1637.0 380.0L1634.5 387.5L1642.0 395.0L1647.0 405.0L1649.5 415.0L1647.0 425.0L1637.0 430.0L1627.0 432.5L1617.0 432.5L1607.0 430.0L1604.5 422.5L1597.0 425.0L1592.0 432.5L1593.2 442.5L1597.0 452.5L1602.0 460.0L1607.0 470.0L1614.5 480.0L1622.0 485.0L1624.5 482.5L1619.5 477.5L1612.0 467.5L1604.5 457.5L1597.0 447.5L1594.5 437.5L1593.2 427.5L1589.5 417.5L1587.0 407.5L1579.5 402.5L1572.0 405.0L1569.5 395.0L1562.0 385.0L1552.0 375.0L1542.0 367.5Z" fill="#dfceba"/>
<path d="M1182.0 262.0L1195.0 258.0L1212.0 258.0L1212.0 264.0L1206.0 268.0L1210.0 276.0L1206.0 284.0L1200.0 288.0L1195.0 282.0L1188.0 272.0Z" fill="#c0c4c3"/>
<path d="M702.5 207.5L712.0 197.0L719.0 191.5L725.0 186.0L727.0 188.0L721.0 193.5L714.0 199.0Z" fill="#f5e5d5"/>
<path d="M330.0 43.5L330.0 88.8L340.0 90.0L350.0 98.8L360.0 96.2L362.5 105.0L370.0 110.0L375.0 117.5L380.0 125.0L387.5 129.0" fill="none" stroke="#dccdb6" stroke-width="1.2"/>
<path d="M420.0 193.8L570.0 193.8L580.0 196.2L585.0 196.9L591.2 201.2L608.8 200.0L616.2 206.2L621.2 208.8L630.0 210.0L635.0 216.2L640.0 222.5L641.2 232.5L638.8 241.2L636.2 245.0L638.8 248.0L645.0 245.0L655.0 242.5L657.5 236.2L667.5 233.8L675.0 228.8L680.0 225.0L688.8 222.5L697.5 220.0L705.0 216.2L706.2 211.2L711.2 208.8L716.2 210.0L717.5 217.5L721.2 221.2L726.2 222.5" fill="none" stroke="#dccdb6" stroke-width="1.2"/>
<path d="M1233.8 43.8L1232.5 50.0L1237.5 55.0L1241.2 61.2L1238.8 67.5L1232.5 73.8L1226.2 81.2L1221.2 86.2L1218.8 88.8" fill="none" stroke="#dccdb6" stroke-width="1.2"/>
<path d="M1221.2 97.5L1218.8 105.0L1220.0 115.0L1221.2 125.0" fill="none" stroke="#dccdb6" stroke-width="1.2"/>
<path d="M1688.0 186.0L1696.7 190.4L1701.8 182.0L1705.0 173.6L1710.0 170.0L1705.0 161.8L1711.8 156.8L1723.6 155.0L1733.7 158.5L1740.4 165.2L1742.0 173.6L1748.8 183.7L1760.6 190.4L1764.0 198.8L1770.7 203.9L1782.4 198.8L1784.0 205.5L1777.4 219.0L1769.0 224.0L1764.0 229.0L1765.6 235.8L1762.3 241.0" fill="none" stroke="#dccdb6" stroke-width="1.2"/>
<path d="M1040.0 236.0L1041.0 250.0L1038.0 262.0L1039.0 276.0" fill="none" stroke="#dccdb6" stroke-width="1.2"/>
</g>
<g fill="none" stroke="#1d1d1b">
<circle cx="555.8" cy="96.8" r="48.30" stroke-width="5.4"/>
<circle cx="555.4" cy="309.5" r="163.70" stroke-width="5.4"/>
<circle cx="800.5" cy="537.7" r="51.60" stroke-width="5.4"/>
<circle cx="1055.2" cy="123.1" r="65.10" stroke-width="5.4"/>
<circle cx="1206.1" cy="249.4" r="131.40" stroke-width="5.4"/>
<circle cx="1329.1" cy="123.4" r="44.50" stroke-width="5.4"/>
<circle cx="1615.0" cy="309.0" r="127.30" stroke-width="5.4"/>
<circle cx="1822.8" cy="309.0" r="77.90" stroke-width="5.4"/>
<circle cx="1473.4" cy="426.7" r="56.00" stroke-width="5.4"/>
<circle cx="1214.1" cy="601.9" r="20.50" stroke-width="5.0"/>
</g>
<text class="sb" x="637.5" y="74.4" font-size="18.2" textLength="57.5" lengthAdjust="spacingAndGlyphs">Canada</text>
<text class="nb" x="528.8" y="103.8" font-size="24.5" textLength="54.4" lengthAdjust="spacingAndGlyphs">1.552</text>
<rect x="653.1" y="85.6" width="60.2" height="21.0" rx="2" fill="#8a950e"/>
<text class="yr" x="618.8" y="101.9" font-size="12.0" textLength="30.4" lengthAdjust="spacingAndGlyphs">2016</text>
<text class="vv" x="661.4" y="101.9" font-size="16.0" textLength="31.2" lengthAdjust="spacingAndGlyphs" fill="#f7efdc">+1,4</text>
<path d="M696.3 101.9H707.7L702.0 90.8Z" fill="#f7efdc"/>
<rect x="653.1" y="109.4" width="60.2" height="21.0" rx="2" fill="#8a950e"/>
<text class="yr" x="618.8" y="125.7" font-size="12.0" textLength="30.4" lengthAdjust="spacingAndGlyphs">2017</text>
<text class="vv" x="661.4" y="125.7" font-size="16.0" textLength="31.2" lengthAdjust="spacingAndGlyphs" fill="#f7efdc">+2,1</text>
<path d="M696.3 125.7H707.7L702.0 114.6Z" fill="#f7efdc"/>
<text class="sb" x="875.6" y="103.1" font-size="18.2" textLength="98.8" lengthAdjust="spacingAndGlyphs">Regno Unito</text>
<text class="nb" x="1025.0" y="130.6" font-size="24.5" textLength="60.0" lengthAdjust="spacingAndGlyphs">2.849</text>
<rect x="912.0" y="114.4" width="60.2" height="21.0" rx="2" fill="#8a950e"/>
<text class="yr" x="877.5" y="130.7" font-size="12.0" textLength="30.4" lengthAdjust="spacingAndGlyphs">2016</text>
<text class="vv" x="920.3" y="130.7" font-size="16.0" textLength="31.2" lengthAdjust="spacingAndGlyphs" fill="#f7efdc">+1,7</text>
<path d="M955.2 130.7H966.6L960.9 119.6Z" fill="#f7efdc"/>
<rect x="912.0" y="138.1" width="60.2" height="21.0" rx="2" fill="#8a950e"/>
<text class="yr" x="877.5" y="154.4" font-size="12.0" textLength="30.4" lengthAdjust="spacingAndGlyphs">2017</text>
<text class="vv" x="920.3" y="154.4" font-size="16.0" textLength="31.2" lengthAdjust="spacingAndGlyphs" fill="#f7efdc">+1,3</text>
<path d="M955.2 154.4H966.6L960.9 143.3Z" fill="#f7efdc"/>
<text class="sb" x="542.4" y="263.7" font-size="18.2" textLength="27.4" lengthAdjust="spacingAndGlyphs">Usa</text>
<text class="nb" x="494.3" y="305.5" font-size="48.2" textLength="124.1" lengthAdjust="spacingAndGlyphs">17.947</text>
<rect x="543.3" y="312.4" width="60.2" height="21.0" rx="2" fill="#8a950e"/>
<text class="yr" x="508.5" y="328.7" font-size="12.0" textLength="30.4" lengthAdjust="spacingAndGlyphs">2016</text>
<text class="vv" x="551.6" y="328.7" font-size="16.0" textLength="31.2" lengthAdjust="spacingAndGlyphs" fill="#f7efdc">+2,2</text>
<path d="M586.5 328.7H597.9L592.2 317.6Z" fill="#f7efdc"/>
<rect x="543.3" y="336.9" width="60.2" height="21.0" rx="2" fill="#8a950e"/>
<text class="yr" x="508.5" y="353.2" font-size="12.0" textLength="30.4" lengthAdjust="spacingAndGlyphs">2017</text>
<text class="vv" x="551.6" y="353.2" font-size="16.0" textLength="31.2" lengthAdjust="spacingAndGlyphs" fill="#f7efdc">+2,5</text>
<path d="M586.5 353.2H597.9L592.2 342.1Z" fill="#f7efdc"/>
<text class="sb" x="1169.9" y="210.4" font-size="18.2" textLength="72.6" lengthAdjust="spacingAndGlyphs">Eurozona</text>
<text class="nb" x="1153.9" y="245.1" font-size="38.4" textLength="104.6" lengthAdjust="spacingAndGlyphs">11.540</text>
<rect x="1193.8" y="253.0" width="60.2" height="21.0" rx="2" fill="#8a950e"/>
<text class="yr" x="1159.5" y="269.3" font-size="12.0" textLength="30.4" lengthAdjust="spacingAndGlyphs">2016</text>
<text class="vv" x="1202.1" y="269.3" font-size="16.0" textLength="31.2" lengthAdjust="spacingAndGlyphs" fill="#f7efdc">+1,6</text>
<path d="M1237.0 269.3H1248.4L1242.7 258.2Z" fill="#f7efdc"/>
<rect x="1193.8" y="277.0" width="60.2" height="21.0" rx="2" fill="#8a950e"/>
<text class="yr" x="1159.5" y="293.3" font-size="12.0" textLength="30.4" lengthAdjust="spacingAndGlyphs">2017</text>
<text class="vv" x="1202.1" y="293.3" font-size="16.0" textLength="31.2" lengthAdjust="spacingAndGlyphs" fill="#f7efdc">+1,4</text>
<path d="M1237.0 293.3H1248.4L1242.7 282.2Z" fill="#f7efdc"/>
<text class="sb" x="1406.2" y="103.1" font-size="18.2" textLength="51.2" lengthAdjust="spacingAndGlyphs">Russia</text>
<text class="nb" x="1301.9" y="130.6" font-size="24.5" textLength="54.3" lengthAdjust="spacingAndGlyphs">1.325</text>
<rect x="1419.0" y="114.2" width="60.2" height="21.0" rx="2" fill="#1d1d1b"/>
<text class="yr" x="1384.4" y="130.5" font-size="12.0" textLength="30.4" lengthAdjust="spacingAndGlyphs">2016</text>
<text class="vv" x="1429.5" y="130.5" font-size="16.0" textLength="28.0" lengthAdjust="spacingAndGlyphs" fill="#f7efdc">-1,2</text>
<path d="M1462.2 119.6H1473.6L1467.9 130.8Z" fill="#f7efdc"/>
<rect x="1419.0" y="138.1" width="60.2" height="21.0" rx="2" fill="#8a950e"/>
<text class="yr" x="1384.4" y="154.4" font-size="12.0" textLength="30.4" lengthAdjust="spacingAndGlyphs">2017</text>
<text class="vv" x="1427.3" y="154.4" font-size="16.0" textLength="31.2" lengthAdjust="spacingAndGlyphs" fill="#f7efdc">+1,0</text>
<path d="M1462.2 154.4H1473.6L1467.9 143.3Z" fill="#f7efdc"/>
<text class="sb" x="1598.7" y="273.9" font-size="18.2" textLength="33.9" lengthAdjust="spacingAndGlyphs">Cina</text>
<text class="nb" x="1567.9" y="305.1" font-size="35.0" textLength="95.8" lengthAdjust="spacingAndGlyphs">10.983</text>
<rect x="1603.0" y="315.3" width="60.2" height="21.0" rx="2" fill="#8a950e"/>
<text class="yr" x="1568.5" y="331.6" font-size="12.0" textLength="30.4" lengthAdjust="spacingAndGlyphs">2016</text>
<text class="vv" x="1611.3" y="331.6" font-size="16.0" textLength="31.2" lengthAdjust="spacingAndGlyphs" fill="#f7efdc">+6,6</text>
<path d="M1646.2 331.6H1657.6L1651.9 320.5Z" fill="#f7efdc"/>
<rect x="1603.0" y="339.5" width="60.2" height="21.0" rx="2" fill="#8a950e"/>
<text class="yr" x="1568.5" y="355.8" font-size="12.0" textLength="30.4" lengthAdjust="spacingAndGlyphs">2017</text>
<text class="vv" x="1611.3" y="355.8" font-size="16.0" textLength="31.2" lengthAdjust="spacingAndGlyphs" fill="#f7efdc">+6,2</text>
<path d="M1646.2 355.8H1657.6L1651.9 344.7Z" fill="#f7efdc"/>
<text class="sb" x="1785.1" y="273.9" font-size="18.2" textLength="75.8" lengthAdjust="spacingAndGlyphs">Giappone</text>
<text class="nb" x="1790.7" y="305.1" font-size="29.0" textLength="63.8" lengthAdjust="spacingAndGlyphs">4.123</text>
<rect x="1810.3" y="315.3" width="60.2" height="21.0" rx="2" fill="#8a950e"/>
<text class="yr" x="1776.0" y="331.6" font-size="12.0" textLength="30.4" lengthAdjust="spacingAndGlyphs">2016</text>
<text class="vv" x="1818.6" y="331.6" font-size="16.0" textLength="31.2" lengthAdjust="spacingAndGlyphs" fill="#f7efdc">+0,3</text>
<path d="M1853.5 331.6H1864.9L1859.2 320.5Z" fill="#f7efdc"/>
<rect x="1810.3" y="339.5" width="60.2" height="21.0" rx="2" fill="#8a950e"/>
<text class="yr" x="1776.0" y="355.8" font-size="12.0" textLength="30.4" lengthAdjust="spacingAndGlyphs">2017</text>
<text class="vv" x="1818.6" y="355.8" font-size="16.0" textLength="31.2" lengthAdjust="spacingAndGlyphs" fill="#f7efdc">+0,1</text>
<path d="M1853.5 355.8H1864.9L1859.2 344.7Z" fill="#f7efdc"/>
<text class="sb" x="780.0" y="413.1" font-size="18.2" textLength="41.2" lengthAdjust="spacingAndGlyphs">India</text>
<text class="nb" x="773.8" y="545.0" font-size="24.5" textLength="53.8" lengthAdjust="spacingAndGlyphs">1.773</text>
<rect x="788.1" y="424.0" width="60.2" height="21.0" rx="2" fill="#1d1d1b"/>
<text class="yr" x="753.8" y="440.3" font-size="12.0" textLength="30.4" lengthAdjust="spacingAndGlyphs">2016</text>
<text class="vv" x="798.6" y="440.3" font-size="16.0" textLength="28.0" lengthAdjust="spacingAndGlyphs" fill="#f7efdc">-3,3</text>
<path d="M831.3 429.4H842.7L837.0 440.6Z" fill="#f7efdc"/>
<rect x="788.1" y="448.1" width="60.2" height="21.0" rx="2" fill="#8a950e"/>
<text class="yr" x="753.8" y="464.4" font-size="12.0" textLength="30.4" lengthAdjust="spacingAndGlyphs">2017</text>
<text class="vv" x="796.4" y="464.4" font-size="16.0" textLength="31.2" lengthAdjust="spacingAndGlyphs" fill="#f7efdc">+0,5</text>
<path d="M831.3 464.4H842.7L837.0 453.3Z" fill="#f7efdc"/>
<text class="sb" x="1452.7" y="513.8" font-size="18.2" textLength="41.5" lengthAdjust="spacingAndGlyphs">India</text>
<text class="nb" x="1444.3" y="433.9" font-size="25.3" textLength="58.2" lengthAdjust="spacingAndGlyphs">2.091</text>
<rect x="1461.0" y="524.7" width="60.2" height="21.0" rx="2" fill="#8a950e"/>
<text class="yr" x="1426.0" y="541.0" font-size="12.0" textLength="30.4" lengthAdjust="spacingAndGlyphs">2016</text>
<text class="vv" x="1469.3" y="541.0" font-size="16.0" textLength="31.2" lengthAdjust="spacingAndGlyphs" fill="#f7efdc">+7,4</text>
<path d="M1504.2 541.0H1515.6L1509.9 529.9Z" fill="#f7efdc"/>
<rect x="1461.0" y="548.4" width="60.2" height="21.0" rx="2" fill="#8a950e"/>
<text class="yr" x="1426.0" y="564.7" font-size="12.0" textLength="30.4" lengthAdjust="spacingAndGlyphs">2017</text>
<text class="vv" x="1469.3" y="564.7" font-size="16.0" textLength="31.2" lengthAdjust="spacingAndGlyphs" fill="#f7efdc">+7,4</text>
<path d="M1504.2 564.7H1515.6L1509.9 553.6Z" fill="#f7efdc"/>
<text class="sb" x="1176.5" y="492.2" font-size="18.2" textLength="75.0" lengthAdjust="spacingAndGlyphs">Sudafrica</text>
<text class="nb" x="1196.7" y="517.6" font-size="24.2" textLength="34.5" lengthAdjust="spacingAndGlyphs">313</text>
<rect x="1192.0" y="523.8" width="60.2" height="21.0" rx="2" fill="#8a950e"/>
<text class="yr" x="1157.4" y="540.1" font-size="12.0" textLength="30.4" lengthAdjust="spacingAndGlyphs">2016</text>
<text class="vv" x="1200.3" y="540.1" font-size="16.0" textLength="31.2" lengthAdjust="spacingAndGlyphs" fill="#f7efdc">+0,1</text>
<path d="M1235.2 540.1H1246.6L1240.9 529.0Z" fill="#f7efdc"/>
<rect x="1192.0" y="548.1" width="60.2" height="21.0" rx="2" fill="#8a950e"/>
<text class="yr" x="1157.4" y="564.4" font-size="12.0" textLength="30.4" lengthAdjust="spacingAndGlyphs">2017</text>
<text class="vv" x="1200.3" y="564.4" font-size="16.0" textLength="31.2" lengthAdjust="spacingAndGlyphs" fill="#f7efdc">+1,0</text>
<path d="M1235.2 564.4H1246.6L1240.9 553.3Z" fill="#f7efdc"/>
<text class="sb tt" x="37.4" y="86.2" font-size="40.7" textLength="159.7" lengthAdjust="spacingAndGlyphs">La mappa</text>
<text class="sb tt" x="37.4" y="126.9" font-size="40.7" textLength="107.3" lengthAdjust="spacingAndGlyphs">del Pil</text>
<text class="sr" x="38.2" y="170.3" font-size="22.0" textLength="207.4" lengthAdjust="spacingAndGlyphs">Il confronto tra le grandi</text>
<text class="sr" x="38.2" y="195.0" font-size="22.0" textLength="242.4" lengthAdjust="spacingAndGlyphs">aree economiche del mondo:</text>
<text class="sr" x="38.2" y="218.8" font-size="22.0" textLength="183.5" lengthAdjust="spacingAndGlyphs">crescita e dimensione</text>
<text class="sl" x="38.2" y="293.0" font-size="23.3" textLength="90.0" lengthAdjust="spacingAndGlyphs">LEGENDA</text>
<text class="sb" x="58.2" y="343.0" font-size="18.9" textLength="117.7" lengthAdjust="spacingAndGlyphs">Il Pil nominale</text>
<text class="sr" x="58.2" y="363.8" font-size="18.3" textLength="235.9" lengthAdjust="spacingAndGlyphs">Dato 2015 in miliardi di dollari</text>
<text class="sb" x="58.2" y="439.1" font-size="18.9" textLength="87.4" lengthAdjust="spacingAndGlyphs">La crescita</text>
<text class="sr" x="58.2" y="460.0" font-size="18.3" textLength="156.5" lengthAdjust="spacingAndGlyphs">Variazione % annua</text>
<text class="sr" x="35.7" y="632.9" font-size="17.0" textLength="69.3" lengthAdjust="spacingAndGlyphs">Fonte: Fmi</text>
<circle cx="44" cy="336.9" r="6.4" fill="none" stroke="#1d1d1b" stroke-width="2.9"/>
<rect x="37" y="425.6" width="14.2" height="14.2" fill="#1d1d1b"/><path d="M37 425.6h14.2l-14.2 14.2z" fill="#8a950e"/>
<rect x="22.7" y="0" width="1.5" height="669" fill="#1d1d1b"/>
<rect x="22.7" y="706" width="1.5" height="8" fill="#1d1d1b"/>
<rect x="330.6" y="126.3" width="1.4" height="509" fill="#1d1d1b"/>
<rect x="58.2" y="394.8" width="231" height="1" fill="#1d1d1b"/>
</svg>
<div class="hl" style="top:706.9px;height:7.1px"><span style="left:39.4px;top:-30.5px;font-size:125px">I</span><span style="left:89.1px;top:-30.5px;font-size:125px">l</span><span style="left:140.6px;top:-30.0px;font-size:125px">G</span><span style="left:275.4px;top:-21.5px;font-size:125px;transform:scaleX(1.25);transform-origin:0 0">2</span><span style="left:339.4px;top:-24.5px;font-size:125px;transform:scaleX(1.30);transform-origin:0 0">0</span><span style="left:434.0px;top:-30.5px;font-size:125px;font-style:italic">l</span><span style="left:560.4px;top:-26.5px;font-size:125px">i</span><span style="left:814.0px;top:-30.5px;font-size:125px">t</span><span style="left:859.1px;top:-26.5px;font-size:125px">i</span><span style="left:1132.0px;top:-30.5px;font-size:125px">I</span><span style="left:1168.6px;top:-18.5px;font-size:125px">l</span><span style="left:1255.0px;top:-30.5px;font-size:125px;font-style:italic">l</span><span style="left:1295.0px;top:-30.5px;font-size:125px;font-style:italic">l</span><span style="left:1399.0px;top:-30.5px;font-size:125px">t</span><span style="left:1442.8px;top:-30.5px;font-size:125px">t</span><span style="left:1579.5px;top:-30.5px;font-size:125px">R</span><span style="left:1838.6px;top:-26.5px;font-size:125px">i</span><span style="left:1870.5px;top:-30.5px;font-size:125px">t</span></div>
</body></html>
